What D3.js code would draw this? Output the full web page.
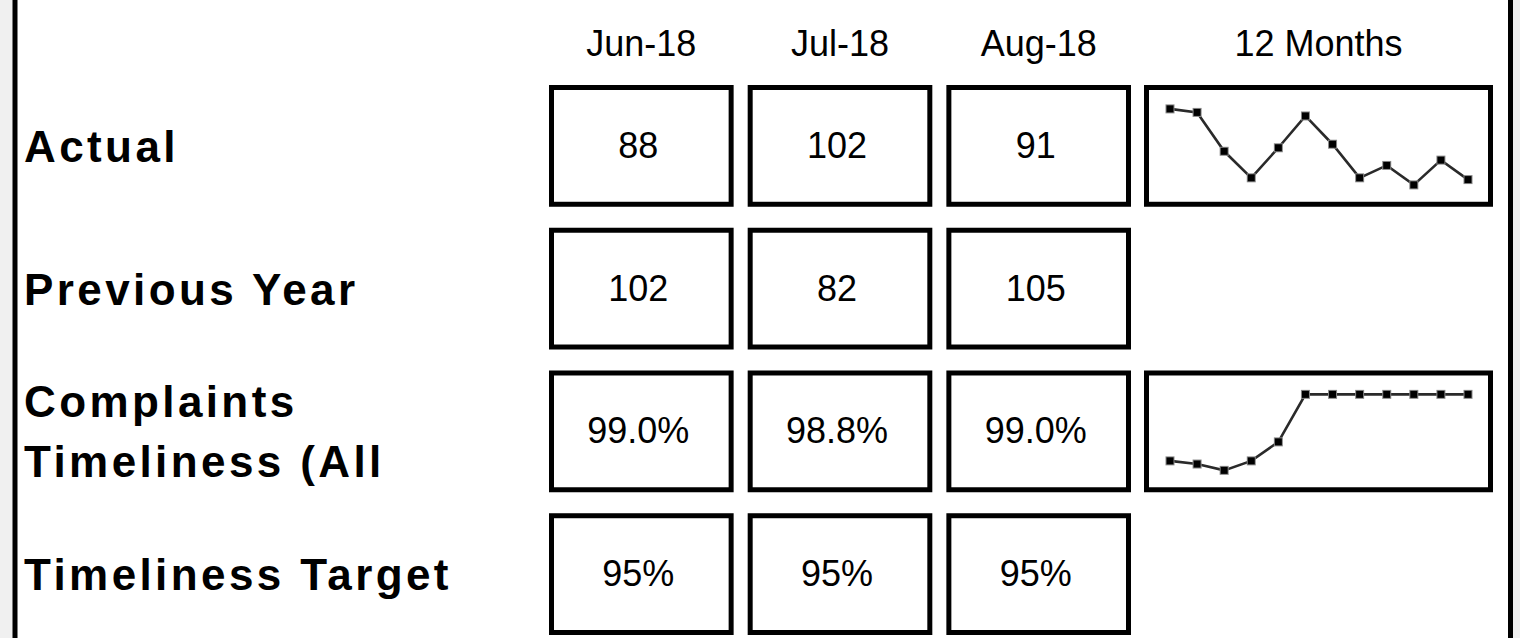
<!DOCTYPE html>
<html>
<head>
<meta charset="utf-8">
<script src="https://cdn.jsdelivr.net/npm/d3@7"></script>
<style>
  html, body { margin: 0; padding: 0; background: #f0f0f0; }
  svg { display: block; }
  .hdr { font-family: "Liberation Sans", Arial, sans-serif; font-size: 36px; fill: #000; }
  .val { font-family: "Liberation Sans", Arial, sans-serif; font-size: 36px; fill: #000; }
  .lbl { font-family: "Liberation Sans", Arial, sans-serif; font-size: 44px; font-weight: bold; letter-spacing: 3.4px; fill: #000; }
</style>
</head>
<body>
<svg id="chart" width="1520" height="638"></svg>
<script>
// Scorecard data
const months = ["Jun-18", "Jul-18", "Aug-18"];
const trendHeader = "12 Months";
const rowKeys = ["actual", "previous", "timeliness", "target"];
const rowLabels = [["Actual"], ["Previous Year"], ["Complaints", "Timeliness (All"], ["Timeliness Target"]];

const actual = ["88", "102", "91"];
const previousYear = ["102", "82", "105"];
const timeliness = ["99.0%", "98.8%", "99.0%"];
const timelinessTarget = ["95%", "95%", "95%"];

// Trailing twelve months for the trend panels
const actualTrend = [131, 129, 107, 92, 109, 127, 111, 92, 99, 88, 102, 91];
const timelinessTrend = [96.9, 96.8, 96.6, 96.9, 97.5, 99.0, 99.0, 99.0, 99.0, 99.0, 99.0, 99.0];

const rowValues = [actual, previousYear, timeliness, timelinessTarget];
const rowTrends = [actualTrend, null, timelinessTrend, null];

const svg = d3.select("#chart");
const W = 1520, H = 638;

// Sheet panel with its dark side rules
svg.append("rect").attr("x", 15).attr("y", 0).attr("width", 1495).attr("height", H).attr("fill", "#fff");
svg.append("line").attr("x1", 15).attr("x2", 15).attr("y1", 0).attr("y2", H)
  .attr("stroke", "#000").attr("stroke-width", 5);
svg.append("line").attr("x1", 1510.5).attr("x2", 1510.5).attr("y1", 0).attr("y2", H)
  .attr("stroke", "#000").attr("stroke-width", 5);

// Layout scales
const x = d3.scaleBand().domain(months).range([549, 1131]).paddingInner(0.0707).paddingOuter(0);
const trendX0 = 1144, trendX1 = 1493;
const y = d3.scaleBand().domain(rowKeys).range([85, 635]).paddingInner(0.147).paddingOuter(0);
const SW = 5; // box border width

// Column headers
svg.selectAll("text.hdr").data(months).join("text")
  .attr("class", "hdr")
  .attr("x", d => x(d) + x.bandwidth() / 2)
  .attr("y", 56)
  .attr("text-anchor", "middle")
  .text(d => d);
svg.append("text").attr("class", "hdr")
  .attr("x", (trendX0 + trendX1) / 2).attr("y", 56)
  .attr("text-anchor", "middle").text(trendHeader);

// Rows
rowKeys.forEach((key, ri) => {
  const top = y(key), bh = y.bandwidth(), cy = top + bh / 2;

  // Row label (one or two lines)
  const lines = rowLabels[ri];
  const lh = 60;
  lines.forEach((ln, li) => {
    svg.append("text").attr("class", "lbl")
      .attr("x", 24)
      .attr("y", cy + 16 + (li - (lines.length - 1) / 2) * lh)
      .text(ln);
  });

  // Value boxes
  const g = svg.append("g");
  g.selectAll("rect").data(months).join("rect")
    .attr("x", d => x(d) + SW / 2)
    .attr("y", top + SW / 2)
    .attr("width", x.bandwidth() - SW)
    .attr("height", bh - SW)
    .attr("fill", "#fff").attr("stroke", "#000").attr("stroke-width", SW);
  g.selectAll("text").data(rowValues[ri]).join("text")
    .attr("class", "val")
    .attr("x", (d, i) => x(months[i]) + x.bandwidth() / 2 - 3)
    .attr("y", cy + 12)
    .attr("text-anchor", "middle")
    .text(d => d);

  // Trend panel
  const trend = rowTrends[ri];
  if (trend) {
    svg.append("rect")
      .attr("x", trendX0 + SW / 2).attr("y", top + SW / 2)
      .attr("width", trendX1 - trendX0 - SW).attr("height", bh - SW)
      .attr("fill", "#fff").attr("stroke", "#000").attr("stroke-width", SW);
    const sx = d3.scalePoint().domain(d3.range(trend.length)).range([trendX0 + 26, trendX1 - 25]);
    const sy = d3.scaleLinear().domain(d3.extent(trend)).range([cy + 39, cy - 37]);
    svg.append("path")
      .datum(trend)
      .attr("d", d3.line().x((d, i) => sx(i)).y(d => sy(d)))
      .attr("fill", "none").attr("stroke", "#2a2a2a").attr("stroke-width", 2.6);
    const mk = svg.append("g");
    mk.selectAll("rect.halo").data(trend).join("rect")
      .attr("class", "halo")
      .attr("x", (d, i) => sx(i) - 4.5)
      .attr("y", d => sy(d) - 4.5)
      .attr("width", 9).attr("height", 9)
      .attr("fill", "#888");
    mk.selectAll("rect.core").data(trend).join("rect")
      .attr("class", "core")
      .attr("x", (d, i) => sx(i) - 3.5)
      .attr("y", d => sy(d) - 3.5)
      .attr("width", 7).attr("height", 7)
      .attr("fill", "#000");
  }
});
</script>
</body>
</html>
